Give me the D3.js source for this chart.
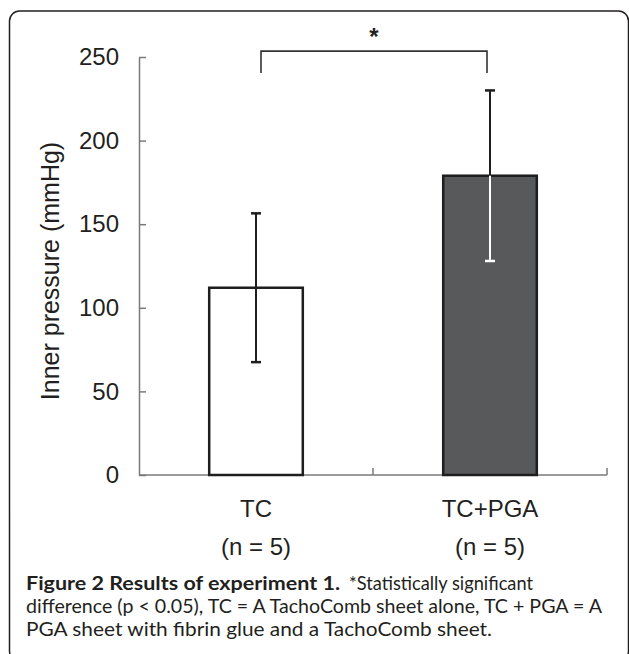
<!DOCTYPE html>
<html lang="en">
<head>
<meta charset="UTF-8">
<title>Figure 2</title>
<script src="https://d3js.org/d3.v7.min.js"></script>
<style>
  body { margin: 0; background: #fff; }
  svg { display: block; }
</style>
</head>
<body>
<svg width="629" height="654"></svg>
<script>
// data
const groups = ["TC", "TC+PGA"];
const nLabels = ["(n = 5)", "(n = 5)"];
const means = [112, 179];
const sds = [44.5, 51];
const fills = ["#ffffff", "#58595b"];
const yTicks = [0, 50, 100, 150, 200, 250];

const ink = "#231f20";
const svg = d3.select("svg");

// frame round the figure
svg.append("rect")
  .attr("x", 9.5).attr("y", 11)
  .attr("width", 619).attr("height", 650)
  .attr("rx", 10)
  .attr("fill", "none").attr("stroke", ink).attr("stroke-width", 1.5);

var x = d3.scaleBand().domain(groups).range([139, 607]);
var y = d3.scaleLinear().domain([0, 250]).range([475, 57]);
var barW = x.bandwidth() * 0.4;
var cx = function(g) { return x(g) + x.bandwidth() / 2; };

// y axis
var yAxis = svg.append("g")
  .attr("transform", "translate(139,0)")
  .call(d3.axisLeft(y).tickValues(yTicks).tickSize(-7).tickSizeOuter(0).tickPadding(20));
yAxis.select(".domain").attr("stroke", "#7a7a7a").attr("stroke-width", 1.5);
yAxis.selectAll(".tick line").attr("stroke", "#7a7a7a").attr("stroke-width", 1.5);
yAxis.selectAll(".tick text")
  .attr("fill", ink)
  .style("font-family", "'Liberation Sans', Arial, sans-serif")
  .style("font-size", "24px");

svg.append("text")
  .attr("transform", "translate(59,271) rotate(-90)")
  .attr("text-anchor", "middle")
  .attr("fill", ink)
  .style("font-family", "'Liberation Sans', Arial, sans-serif")
  .style("font-size", "25px")
  .text("Inner pressure (mmHg)");

// x axis: line with ticks at the group boundaries
svg.append("line")
  .attr("x1", 139).attr("x2", 607)
  .attr("y1", y(0)).attr("y2", y(0))
  .attr("stroke", "#7a7a7a").attr("stroke-width", 1.5);
svg.selectAll(".xtick")
  .data(groups)
  .enter().append("line")
  .attr("class", "xtick")
  .attr("x1", function(d) { return x(d) + x.bandwidth(); })
  .attr("x2", function(d) { return x(d) + x.bandwidth(); })
  .attr("y1", y(0)).attr("y2", y(0) - 7)
  .attr("stroke", "#7a7a7a").attr("stroke-width", 1.5);

// bars
svg.selectAll(".bar")
  .data(groups)
  .enter().append("rect")
  .attr("class", "bar")
  .attr("x", function(d) { return cx(d) - barW / 2; })
  .attr("y", function(d, i) { return y(means[i]); })
  .attr("width", barW)
  .attr("height", function(d, i) { return y(0) - y(means[i]); })
  .attr("fill", function(d, i) { return fills[i]; })
  .attr("stroke", "#1e1e1e")
  .attr("stroke-width", 2.5);

// error bars: upper half black, lower half contrasts with the bar
groups.forEach(function(g, i) {
  var c = cx(g);
  var lowCol = fills[i] === "#ffffff" ? "#1e1e1e" : "#ffffff";
  var e = svg.append("g");
  e.append("line")
    .attr("x1", c).attr("x2", c)
    .attr("y1", y(means[i])).attr("y2", y(means[i] + sds[i]))
    .attr("stroke", "#1e1e1e").attr("stroke-width", 2);
  e.append("line")
    .attr("x1", c - 5).attr("x2", c + 5)
    .attr("y1", y(means[i] + sds[i])).attr("y2", y(means[i] + sds[i]))
    .attr("stroke", "#1e1e1e").attr("stroke-width", 2.5);
  e.append("line")
    .attr("x1", c).attr("x2", c)
    .attr("y1", y(means[i])).attr("y2", y(means[i] - sds[i]))
    .attr("stroke", lowCol).attr("stroke-width", 2);
  e.append("line")
    .attr("x1", c - 5).attr("x2", c + 5)
    .attr("y1", y(means[i] - sds[i])).attr("y2", y(means[i] - sds[i]))
    .attr("stroke", lowCol).attr("stroke-width", 2.5);
});

// category labels
svg.selectAll(".cat")
  .data(groups)
  .enter().append("text")
  .attr("class", "cat")
  .attr("x", cx).attr("y", 517)
  .attr("text-anchor", "middle")
  .attr("fill", ink)
  .style("font-family", "'Liberation Sans', Arial, sans-serif")
  .style("font-size", "24px")
  .text(function(d) { return d; });
svg.selectAll(".nlab")
  .data(groups)
  .enter().append("text")
  .attr("class", "nlab")
  .attr("x", cx).attr("y", 555)
  .attr("text-anchor", "middle")
  .attr("fill", ink)
  .style("font-family", "'Liberation Sans', Arial, sans-serif")
  .style("font-size", "24px")
  .text(function(d, i) { return nLabels[i]; });

// significance bracket
var bx1 = cx(groups[0]) + 5, bx2 = cx(groups[1]) - 3;
svg.append("path")
  .attr("d", "M" + bx1 + "," + y(240.5) + "V" + y(253.5) + "H" + bx2 + "V" + y(240.5))
  .attr("fill", "none").attr("stroke", "#333").attr("stroke-width", 1.6);
svg.append("text")
  .attr("x", (bx1 + bx2) / 2).attr("y", 45)
  .attr("text-anchor", "middle")
  .attr("fill", ink)
  .style("font-family", "'Liberation Sans', Arial, sans-serif")
  .style("font-size", "24px")
  .style("font-weight", "bold")
  .text("*");

// caption, each piece squeezed to the width it has in the figure
var cap = svg.append("g")
  .attr("fill", ink)
  .style("font-family", "Lato, 'Open Sans', sans-serif")
  .style("font-size", "19px");
var capLines = [
  { t: "Figure 2 Results of experiment 1.", x: 26, y: 590, w: 314, bold: true },
  { t: "*Statistically significant", x: 349, y: 590, w: 184 },
  { t: "difference (p < 0.05), TC = A TachoComb sheet alone, TC + PGA = A", x: 26, y: 613, w: 576 },
  { t: "PGA sheet with fibrin glue and a TachoComb sheet.", x: 26, y: 636, w: 466 }
];
capLines.forEach(function(c) {
  cap.append("text")
    .attr("x", c.x).attr("y", c.y)
    .attr("textLength", c.w)
    .attr("lengthAdjust", "spacingAndGlyphs")
    .style("font-weight", c.bold ? "bold" : "normal")
    .text(c.t);
});
</script>
</body>
</html>
